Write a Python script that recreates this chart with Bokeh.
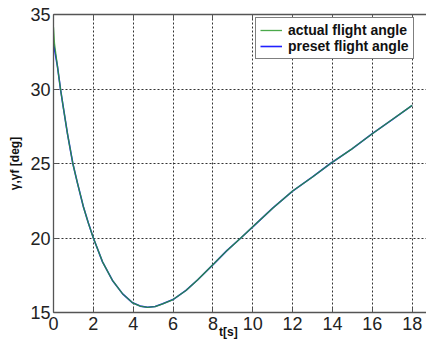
from bokeh.plotting import figure
from bokeh.models import (Range1d, LinearAxis, FixedTicker, Legend, LegendItem)
from bokeh.embed import file_html
from bokeh.resources import INLINE

# data
t_actual = [0, 0.05, 0.2, 0.35, 0.5, 0.7, 0.97, 1.2, 1.5, 1.75, 2.0, 2.46, 2.96, 3.47,
            3.97, 4.35, 4.72, 5.1, 5.48, 6.0, 6.65, 7.24, 8.07, 8.7, 9.4, 10, 11, 12, 13,
            13.9, 15, 16, 17, 18]
gamma_actual = [34.15, 33.05, 31.5, 30.0, 28.7, 27.0, 25.0, 23.7, 22.1, 21.0, 20.0, 18.4,
                17.15, 16.25, 15.65, 15.43, 15.35, 15.4, 15.58, 15.87, 16.48, 17.2, 18.3,
                19.15, 20.0, 20.75, 22.0, 23.15, 24.1, 25.0, 26.0, 27.0, 27.95, 28.9]
t_preset = [0, 0.2, 0.35, 0.5, 0.7, 0.97, 1.2, 1.5, 1.75, 2.0, 2.46, 2.96, 3.47,
            3.97, 4.35, 4.72, 5.1, 5.48, 6.0, 6.65, 7.24, 8.07, 8.7, 9.4, 10, 11, 12, 13,
            13.9, 15, 16, 17, 18]
gamma_preset = [33.05, 31.5, 30.0, 28.7, 27.0, 25.0, 23.7, 22.1, 21.0, 20.0, 18.4,
                17.15, 16.25, 15.65, 15.43, 15.35, 15.4, 15.58, 15.87, 16.48, 17.2, 18.3,
                19.15, 20.0, 20.75, 22.0, 23.15, 24.1, 25.0, 26.0, 27.0, 27.95, 28.9]
x_ticks = [0, 2, 4, 6, 8, 10, 12, 14, 16, 18]
y_ticks = [15, 20, 25, 30, 35]
x_label = "t[s]"
y_label = "γ,γf [deg]"

FONT = "Liberation Sans"

p = figure(width=426, height=343, output_backend="svg", toolbar_location=None,
           x_range=Range1d(0, 18.72), y_range=Range1d(15, 35),
           min_border_left=53, min_border_right=0, min_border_top=14, min_border_bottom=31,
           background_fill_color="white", border_fill_color="white")
p.outline_line_color = None

for ax in (p.xaxis[0], p.yaxis[0]):
    ax.axis_line_color = "#555555"
    ax.axis_line_width = 1.3
    ax.major_tick_in = 5
    ax.major_tick_out = 0
    ax.minor_tick_line_color = None
    ax.major_tick_line_color = "#555555"
    ax.major_label_text_font = FONT
    ax.major_label_text_font_size = "18px"
    ax.major_label_text_color = "#222222"
    ax.axis_label_text_font = FONT
    ax.axis_label_text_font_style = "bold"
    ax.axis_label_text_font_size = "12px"
    ax.axis_label_text_color = "#111111"

p.xaxis[0].ticker = FixedTicker(ticks=x_ticks)
p.yaxis[0].ticker = FixedTicker(ticks=y_ticks)
p.xaxis[0].major_label_standoff = 4
p.yaxis[0].major_label_standoff = 3
# trailing no-break spaces shift the centred label left, between "8" and "10"
p.xaxis[0].axis_label = x_label + "\u00a0" * 7
p.xaxis[0].axis_label_standoff = -8
p.yaxis[0].axis_label = y_label
p.yaxis[0].axis_label_standoff = 5

top = LinearAxis(ticker=FixedTicker(ticks=x_ticks), major_label_text_font_size="0px",
                 major_tick_in=5, major_tick_out=0, minor_tick_line_color=None,
                 axis_line_color="#555555", axis_line_width=1.3,
                 major_tick_line_color="#555555")
top.major_label_text_color = None
p.add_layout(top, "above")

p.xgrid.ticker = FixedTicker(ticks=x_ticks)
p.ygrid.ticker = FixedTicker(ticks=y_ticks)
for g in (p.xgrid[0], p.ygrid[0]):
    g.grid_line_color = "#333333"
    g.grid_line_dash = "2 2"
    g.grid_line_width = 1

r_pre = p.line(t_preset, gamma_preset, line_color="#2020ff", line_width=1.6)
r_act = p.line(t_actual, gamma_actual, line_color="#2a9a2a", line_width=1.3, line_alpha=0.85)

legend = Legend(items=[LegendItem(label="actual flight angle", renderers=[r_act]),
                       LegendItem(label="preset flight angle", renderers=[r_pre])],
                location=(202, 253), orientation="vertical",
                border_line_color="black", border_line_width=1,
                background_fill_color="white", background_fill_alpha=1,
                padding=4, margin=0, spacing=0,
                label_height=16, glyph_height=16, glyph_width=22, label_standoff=6,
                label_text_font=FONT, label_text_font_style="bold",
                label_text_font_size="14px", label_text_color="#111111")
p.add_layout(legend, "center")

open("out.html", "w").write(file_html(p, INLINE))
